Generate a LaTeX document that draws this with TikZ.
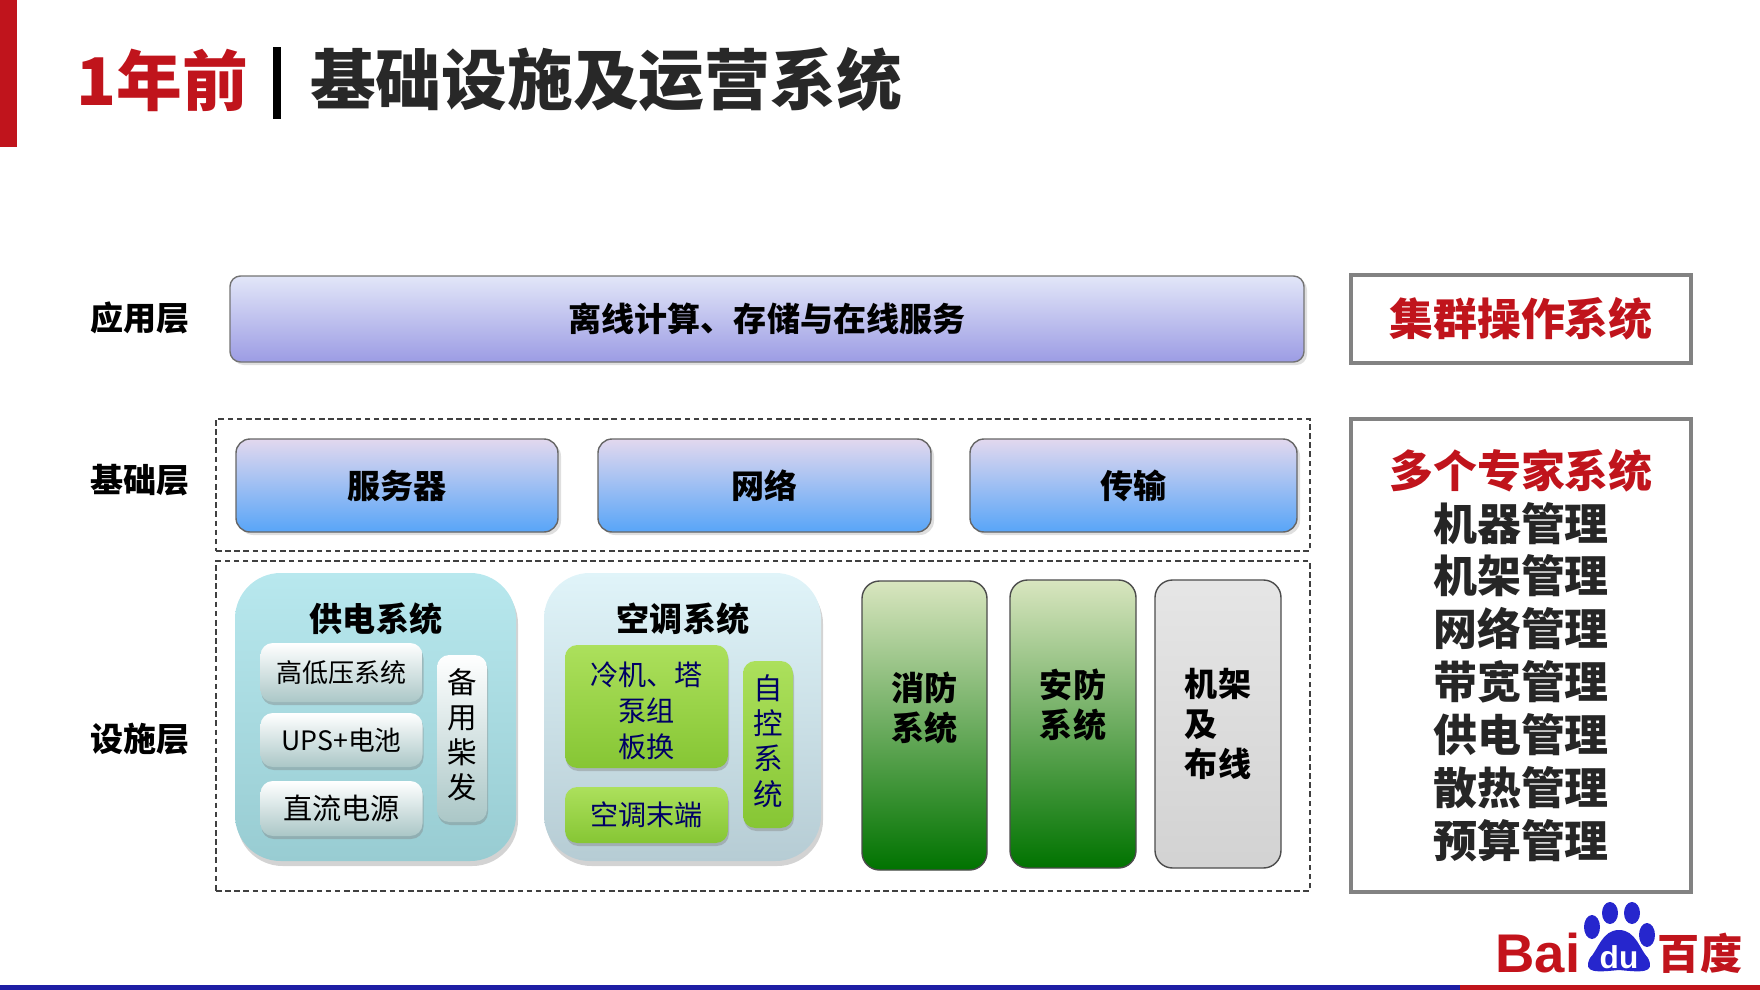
\documentclass[tikz,border=0pt]{standalone}
\usepackage{xcolor}
\usepackage{fontspec}
\setmainfont{Noto Sans CJK SC}
\newfontfamily\logofont{Liberation Sans}
\usetikzlibrary{shadows}
\definecolor{brandred}{RGB}{192, 20, 28}
\definecolor{brandblue}{RGB}{38, 38, 205}
\definecolor{titleink}{RGB}{40, 40, 40}
\definecolor{boxgray}{RGB}{130, 130, 130}
\definecolor{apptop}{RGB}{226, 230, 248}
\definecolor{appmid}{RGB}{198, 206, 244}
\definecolor{appbot}{RGB}{156, 156, 228}
\definecolor{basetop}{RGB}{226, 216, 238}
\definecolor{basemid}{RGB}{150, 190, 240}
\definecolor{basebot}{RGB}{88, 165, 248}
\definecolor{powertop}{RGB}{184, 232, 238}
\definecolor{powerbot}{RGB}{152, 204, 210}
\definecolor{cooltop}{RGB}{224, 244, 249}
\definecolor{coolbot}{RGB}{182, 204, 212}
\definecolor{limetop}{RGB}{172, 224, 92}
\definecolor{limebot}{RGB}{134, 198, 52}

\begin{document}
\begin{tikzpicture}[
    layerlabel/.style={font=\fontsize{9.4}{12}\selectfont\bfseries},
    dashbox/.style={draw=black!75, dash pattern=on 1.6pt off 1pt, line width=0.35pt, inner sep=0},
    appbar/.style={draw=black!55, rounded corners=3pt, inner sep=0, top color=apptop, middle color=appmid, bottom color=appbot, font=\fontsize{9.4}{12}\selectfont\bfseries, drop shadow={shadow xshift=0.03, shadow yshift=-0.03, opacity=0.25}},
    basebox/.style={draw=black!60, rounded corners=4pt, inner sep=0, top color=basetop, middle color=basemid, bottom color=basebot, font=\fontsize{9.4}{12}\selectfont\bfseries, drop shadow={shadow xshift=0.03, shadow yshift=-0.03, opacity=0.25}},
    groupbox/.style={rounded corners=13pt, inner sep=0, drop shadow={shadow xshift=0.02, shadow yshift=-0.05, opacity=0.35}},
    silverbox/.style={rounded corners=3.5pt, inner sep=0, top color=white, middle color=cyan!8!gray!25, bottom color=cyan!20!gray!55, font=\fontsize{7.4}{10}\selectfont, drop shadow={shadow xshift=0.01, shadow yshift=-0.03, opacity=0.4}},
    limebox/.style={rounded corners=3.5pt, inner sep=0, top color=limetop, bottom color=limebot, font=\fontsize{8}{10.2}\selectfont, text=blue!40!black, drop shadow={shadow xshift=0.01, shadow yshift=-0.03, opacity=0.4}},
    greenbox/.style={draw=black!70, rounded corners=5pt, inner sep=0, top color=green!20!olive!25!white, middle color=green!30!olive!70!white, bottom color=green!45!black},
    columntext/.style={align=center, font=\fontsize{9.4}{11.5}\selectfont\bfseries},
    sidebox/.style={draw=boxgray, line width=1pt, inner sep=0},
    sidetext/.style={font=\fontsize{12.5}{15.05}\selectfont\bfseries}
]
    \useasboundingbox (0,0) rectangle (17.6,-9.9);

    % title band
    \fill[brandred] (0,0) rectangle (0.17,-1.47);
    \node[font=\fontsize{18.7}{22}\selectfont\bfseries, text=brandred] (age) at (1.62,-0.80) {1年前};
    \node[draw=black, fill=black, inner sep=0, minimum width=0.07cm, minimum height=0.70cm] (rule) at (2.77,-0.83) {};
    \node[font=\fontsize{18.7}{22}\selectfont\bfseries, text=titleink] (title) at (6.06,-0.80) {基础设施及运营系统};

    % layer labels
    \node[layerlabel] (app) at (1.40,-3.18) {应用层};
    \node[layerlabel] (base) at (1.40,-4.80) {基础层};
    \node[layerlabel] (fac) at (1.40,-7.39) {设施层};

    % top layer
    \node[appbar, minimum width=10.74cm, minimum height=0.86cm] (offline) at (7.67,-3.19) {离线计算、存储与在线服务};

    % dashed frames
    \node[dashbox, minimum width=10.94cm, minimum height=1.32cm] (baseframe) at (7.63,-4.85) {};
    \node[dashbox, minimum width=10.94cm, minimum height=3.30cm] (facframe) at (7.63,-7.26) {};

    % base layer
    \node[basebox, minimum width=3.22cm, minimum height=0.93cm] (server) at (3.97,-4.855) {服务器};
    \node[basebox, minimum width=3.33cm, minimum height=0.93cm] (net) at (7.645,-4.855) {网络};
    \node[basebox, minimum width=3.27cm, minimum height=0.93cm] (trans) at (11.335,-4.855) {传输};

    % power group
    \node[groupbox, minimum width=2.81cm, minimum height=2.88cm, top color=powertop, bottom color=powerbot] (power) at (3.755,-7.17) {};
    \node[layerlabel] (powertitle) at (3.76,-6.19) {供电系统};
    \node[silverbox, minimum width=1.62cm, minimum height=0.59cm] (hv) at (3.415,-6.725) {高低压系统};
    \node[silverbox, minimum width=1.62cm, minimum height=0.54cm, font=\fontsize{7.6}{10}\selectfont] (ups) at (3.415,-7.40) {UPS+电池};
    \node[silverbox, minimum width=1.62cm, minimum height=0.55cm, font=\fontsize{8.3}{10}\selectfont] (dc) at (3.415,-8.085) {直流电源};
    \node[silverbox, minimum width=0.50cm, minimum height=1.67cm] (diesel) at (4.62,-7.385) {};
    \node[font=\fontsize{8.4}{10}\selectfont, align=center] (dieseltext) at (4.62,-7.35) {备\\用\\柴\\发};

    % cooling group
    \node[groupbox, minimum width=2.77cm, minimum height=2.88cm, top color=cooltop, bottom color=coolbot] (cool) at (6.825,-7.17) {};
    \node[layerlabel] (cooltitle) at (6.83,-6.19) {空调系统};
    \node[limebox, minimum width=1.63cm, minimum height=1.23cm, align=center] (chiller) at (6.465,-7.065) {};
    \node[font=\fontsize{8}{10.2}\selectfont, text=blue!40!black, align=center] (chillertext) at (6.465,-7.11) {冷机、塔\\泵组\\板换};
    \node[limebox, minimum width=1.63cm, minimum height=0.56cm] (term) at (6.465,-8.15) {空调末端};
    \node[limebox, minimum width=0.50cm, minimum height=1.67cm] (auto) at (7.68,-7.445) {};
    \node[font=\fontsize{8.4}{10}\selectfont, text=blue!40!black, align=center] (autotext) at (7.68,-7.41) {自\\控\\系\\统};

    % green columns
    \node[greenbox, minimum width=1.25cm, minimum height=2.89cm] (fire) at (9.245,-7.255) {};
    \node[columntext] (firetext) at (9.245,-7.08) {消防\\系统};
    \node[greenbox, minimum width=1.26cm, minimum height=2.88cm] (secure) at (10.73,-7.24) {};
    \node[columntext] (securetext) at (10.73,-7.05) {安防\\系统};
    \node[draw=black!70, rounded corners=5pt, inner sep=0, top color=gray!20, bottom color=gray!35, minimum width=1.26cm, minimum height=2.88cm, align=left, font=\fontsize{9.4}{11.5}\selectfont\bfseries] (rack) at (12.18,-7.24) {机架\\及\\布线};

    % right panel
    \node[sidebox, minimum width=3.40cm, minimum height=0.88cm, sidetext, text=brandred] (cluster) at (15.21,-3.19) {集群操作系统};
    \node[sidebox, minimum width=3.40cm, minimum height=4.73cm] (expert) at (15.21,-6.555) {};
    \node[sidetext, text=brandred] (experttitle) at (15.21,-4.71) {多个专家系统};
    \node[sidetext, align=center, text=black!85] (mgmt) at (15.21,-6.82) {机器管理\\机架管理\\网络管理\\带宽管理\\供电管理\\散热管理\\预算管理};

    % bottom rule
    \fill[brandblue!80!black] (0,-9.85) rectangle (14.60,-9.90);
    \fill[brandred] (14.60,-9.85) rectangle (17.6,-9.90);

    % logo
    \node[font=\logofont\fontsize{15.5}{16}\selectfont\bfseries, text=brandred!95!red, inner sep=0] (bai) at (15.38,-9.53) {Bai};
    \fill[brandblue] (15.92,-9.27) ellipse [x radius=0.08, y radius=0.12];
    \fill[brandblue] (16.10,-9.13) ellipse [x radius=0.08, y radius=0.11];
    \fill[brandblue] (16.32,-9.13) ellipse [x radius=0.08, y radius=0.11];
    \fill[brandblue] (16.47,-9.35) ellipse [x radius=0.08, y radius=0.12];
    \fill[brandblue] (16.19,-9.30) .. controls (16.36,-9.30) and (16.40,-9.50) .. (16.48,-9.58) .. controls (16.56,-9.74) and (16.40,-9.72) .. (16.19,-9.70) .. controls (15.98,-9.72) and (15.82,-9.74) .. (15.90,-9.58) .. controls (15.98,-9.50) and (16.02,-9.30) .. (16.19,-9.30) -- cycle;
    \node[font=\logofont\fontsize{9}{9}\selectfont\bfseries, text=white, inner sep=0] (du) at (16.19,-9.57) {du};
    \node[font=\fontsize{12}{13}\selectfont\bfseries, text=brandred, inner sep=0] (baidu) at (17.00,-9.53) {百度};
\end{tikzpicture}
\end{document}
